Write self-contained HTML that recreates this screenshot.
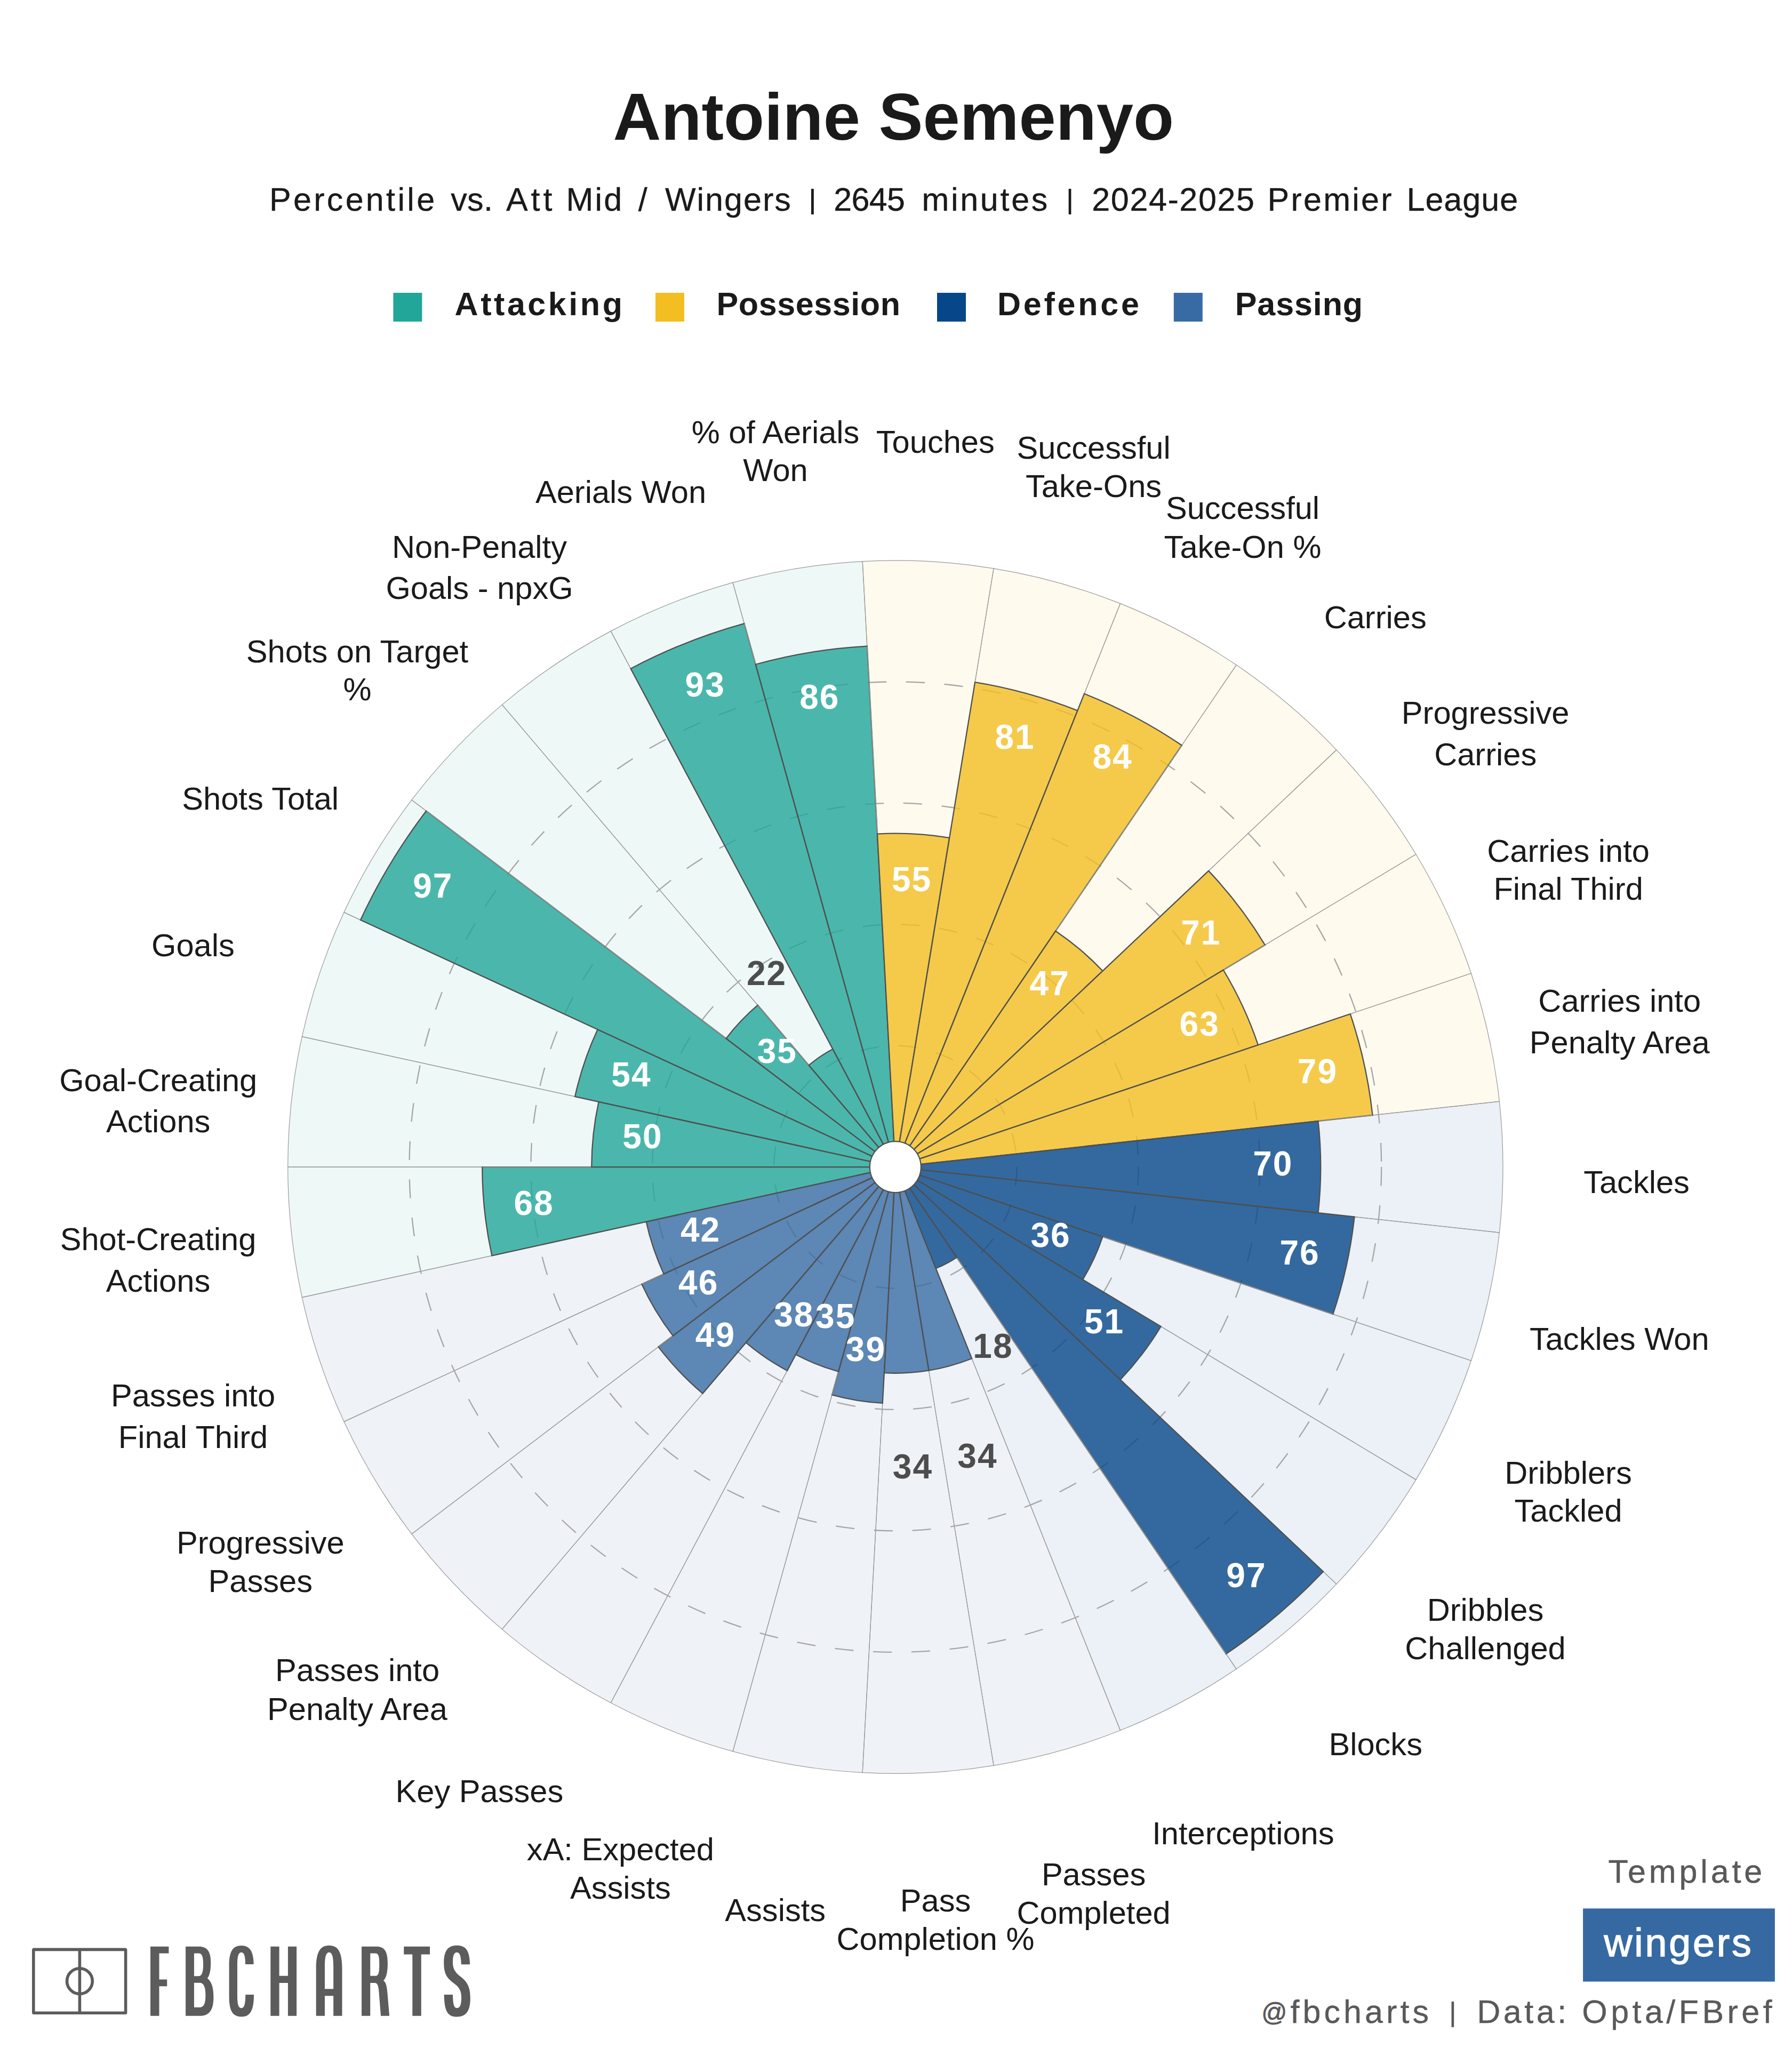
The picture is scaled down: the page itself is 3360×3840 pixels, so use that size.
<!DOCTYPE html><html><head><meta charset="utf-8"><style>html,body{margin:0;padding:0;background:#fff}body{width:3360px;height:3840px;overflow:hidden}</style></head><body><svg width="3360" height="3840" viewBox="0 0 3360 3840" style="display:block;font-family:'Liberation Sans',sans-serif">
<rect width="3360" height="3840" fill="#fff"/>
<text x="1675.3" y="262" text-anchor="middle" style="font-size:124.5px;font-weight:bold;fill:#1a1a1a">Antoine Semenyo</text>
<text x="504.93" y="394.50" style="font-size:61px;letter-spacing:4.320px;fill:#1a1a1a;stroke:#1a1a1a;stroke-width:0.4px;">Percentile</text>
<text x="845.20" y="394.50" style="font-size:61px;letter-spacing:0.381px;fill:#1a1a1a;stroke:#1a1a1a;stroke-width:0.4px;">vs.</text>
<text x="949.00" y="394.50" style="font-size:61px;letter-spacing:5.905px;fill:#1a1a1a;stroke:#1a1a1a;stroke-width:0.4px;">Att</text>
<text x="1061.43" y="394.50" style="font-size:61px;letter-spacing:3.250px;fill:#1a1a1a;stroke:#1a1a1a;stroke-width:0.4px;">Mid</text>
<text x="1196.70" y="394.50" style="font-size:61px;letter-spacing:0.000px;fill:#1a1a1a;stroke:#1a1a1a;stroke-width:0.4px;">/</text>
<text x="1247.00" y="394.50" style="font-size:61px;letter-spacing:1.998px;fill:#1a1a1a;stroke:#1a1a1a;stroke-width:0.4px;">Wingers</text>
<rect x="1521.0" y="354" width="4.80" height="48" fill="#1a1a1a"/>
<text x="1563.34" y="394.50" style="font-size:61px;letter-spacing:-0.690px;fill:#1a1a1a;stroke:#1a1a1a;stroke-width:0.4px;">2645</text>
<text x="1728.39" y="394.50" style="font-size:61px;letter-spacing:3.722px;fill:#1a1a1a;stroke:#1a1a1a;stroke-width:0.4px;">minutes</text>
<rect x="2003.7" y="354" width="4.70" height="48" fill="#1a1a1a"/>
<text x="2047.34" y="394.50" style="font-size:61px;letter-spacing:1.602px;fill:#1a1a1a;stroke:#1a1a1a;stroke-width:0.4px;">2024-2025</text>
<text x="2376.43" y="394.50" style="font-size:61px;letter-spacing:3.272px;fill:#1a1a1a;stroke:#1a1a1a;stroke-width:0.4px;">Premier</text>
<text x="2637.43" y="394.50" style="font-size:61px;letter-spacing:1.037px;fill:#1a1a1a;stroke:#1a1a1a;stroke-width:0.4px;">League</text>
<rect x="737.4" y="549" width="54" height="54" fill="#22a699"/>
<text x="852.55" y="591.00" style="font-size:61px;font-weight:bold;letter-spacing:4.554px;fill:#1a1a1a;">Attacking</text>
<rect x="1229" y="549" width="54" height="54" fill="#f2be22"/>
<text x="1343.49" y="591.00" style="font-size:61px;font-weight:bold;letter-spacing:0.602px;fill:#1a1a1a;">Possession</text>
<rect x="1757" y="549" width="54" height="54" fill="#06478a"/>
<text x="1869.89" y="591.00" style="font-size:61px;font-weight:bold;letter-spacing:4.767px;fill:#1a1a1a;">Defence</text>
<rect x="2200.8" y="549" width="54" height="54" fill="#386ba3"/>
<text x="2315.79" y="591.00" style="font-size:61px;font-weight:bold;letter-spacing:0.897px;fill:#1a1a1a;">Passing</text>
<g transform="translate(1678.85,2188.1) scale(1,0.99829) translate(-1678.85,-2188.1)">
<g stroke="#9a9a9a" stroke-width="1.2" stroke-linejoin="round">
<path d="M1678.85,2188.10 L539.70,2188.10 A1139.15,1139.15 0 0 1 566.33,1943.22 Z" fill="#22a699" fill-opacity="0.08"/>
<path d="M1678.85,2188.10 L566.33,1943.22 A1139.15,1139.15 0 0 1 644.99,1709.78 Z" fill="#22a699" fill-opacity="0.08"/>
<path d="M1678.85,2188.10 L644.99,1709.78 A1139.15,1139.15 0 0 1 771.98,1498.72 Z" fill="#22a699" fill-opacity="0.08"/>
<path d="M1678.85,2188.10 L771.98,1498.72 A1139.15,1139.15 0 0 1 941.38,1319.88 Z" fill="#22a699" fill-opacity="0.08"/>
<path d="M1678.85,2188.10 L941.38,1319.88 A1139.15,1139.15 0 0 1 1145.26,1181.65 Z" fill="#22a699" fill-opacity="0.08"/>
<path d="M1678.85,2188.10 L1145.26,1181.65 A1139.15,1139.15 0 0 1 1374.10,1090.47 Z" fill="#22a699" fill-opacity="0.08"/>
<path d="M1678.85,2188.10 L1374.10,1090.47 A1139.15,1139.15 0 0 1 1617.18,1050.62 Z" fill="#22a699" fill-opacity="0.08"/>
<path d="M1678.85,2188.10 L1617.18,1050.62 A1139.15,1139.15 0 0 1 1863.14,1063.96 Z" fill="#f2be22" fill-opacity="0.08"/>
<path d="M1678.85,2188.10 L1863.14,1063.96 A1139.15,1139.15 0 0 1 2100.49,1129.86 Z" fill="#f2be22" fill-opacity="0.08"/>
<path d="M1678.85,2188.10 L2100.49,1129.86 A1139.15,1139.15 0 0 1 2318.13,1245.24 Z" fill="#f2be22" fill-opacity="0.08"/>
<path d="M1678.85,2188.10 L2318.13,1245.24 A1139.15,1139.15 0 0 1 2505.87,1404.71 Z" fill="#f2be22" fill-opacity="0.08"/>
<path d="M1678.85,2188.10 L2505.87,1404.71 A1139.15,1139.15 0 0 1 2654.94,1600.81 Z" fill="#f2be22" fill-opacity="0.08"/>
<path d="M1678.85,2188.10 L2654.94,1600.81 A1139.15,1139.15 0 0 1 2758.37,1824.37 Z" fill="#f2be22" fill-opacity="0.08"/>
<path d="M1678.85,2188.10 L2758.37,1824.37 A1139.15,1139.15 0 0 1 2811.32,2064.94 Z" fill="#f2be22" fill-opacity="0.08"/>
<path d="M1678.85,2188.10 L2811.32,2064.94 A1139.15,1139.15 0 0 1 2811.32,2311.26 Z" fill="#06478a" fill-opacity="0.08"/>
<path d="M1678.85,2188.10 L2811.32,2311.26 A1139.15,1139.15 0 0 1 2758.37,2551.83 Z" fill="#06478a" fill-opacity="0.08"/>
<path d="M1678.85,2188.10 L2758.37,2551.83 A1139.15,1139.15 0 0 1 2654.94,2775.39 Z" fill="#06478a" fill-opacity="0.08"/>
<path d="M1678.85,2188.10 L2654.94,2775.39 A1139.15,1139.15 0 0 1 2505.87,2971.49 Z" fill="#06478a" fill-opacity="0.08"/>
<path d="M1678.85,2188.10 L2505.87,2971.49 A1139.15,1139.15 0 0 1 2318.13,3130.96 Z" fill="#06478a" fill-opacity="0.08"/>
<path d="M1678.85,2188.10 L2318.13,3130.96 A1139.15,1139.15 0 0 1 2100.49,3246.34 Z" fill="#06478a" fill-opacity="0.08"/>
<path d="M1678.85,2188.10 L2100.49,3246.34 A1139.15,1139.15 0 0 1 1863.14,3312.24 Z" fill="#386ba3" fill-opacity="0.08"/>
<path d="M1678.85,2188.10 L1863.14,3312.24 A1139.15,1139.15 0 0 1 1617.18,3325.58 Z" fill="#386ba3" fill-opacity="0.08"/>
<path d="M1678.85,2188.10 L1617.18,3325.58 A1139.15,1139.15 0 0 1 1374.10,3285.73 Z" fill="#386ba3" fill-opacity="0.08"/>
<path d="M1678.85,2188.10 L1374.10,3285.73 A1139.15,1139.15 0 0 1 1145.26,3194.55 Z" fill="#386ba3" fill-opacity="0.08"/>
<path d="M1678.85,2188.10 L1145.26,3194.55 A1139.15,1139.15 0 0 1 941.38,3056.32 Z" fill="#386ba3" fill-opacity="0.08"/>
<path d="M1678.85,2188.10 L941.38,3056.32 A1139.15,1139.15 0 0 1 771.98,2877.48 Z" fill="#386ba3" fill-opacity="0.08"/>
<path d="M1678.85,2188.10 L771.98,2877.48 A1139.15,1139.15 0 0 1 644.99,2666.42 Z" fill="#386ba3" fill-opacity="0.08"/>
<path d="M1678.85,2188.10 L644.99,2666.42 A1139.15,1139.15 0 0 1 566.33,2432.98 Z" fill="#386ba3" fill-opacity="0.08"/>
<path d="M1678.85,2188.10 L566.33,2432.98 A1139.15,1139.15 0 0 1 539.70,2188.10 Z" fill="#22a699" fill-opacity="0.08"/>
</g>
<g fill="none" stroke="#a6a6a6" stroke-width="2.3" stroke-dasharray="35.2 36.7">
<path d="M1906.68,2188.10 A227.83,227.83 0 0 1 1451.02,2188.10 A227.83,227.83 0 0 1 1906.68,2188.10"/>
<path d="M2134.51,2188.10 A455.66,455.66 0 0 1 1223.19,2188.10 A455.66,455.66 0 0 1 2134.51,2188.10"/>
<path d="M2362.34,2188.10 A683.49,683.49 0 0 1 995.36,2188.10 A683.49,683.49 0 0 1 2362.34,2188.10"/>
<path d="M2590.17,2188.10 A911.32,911.32 0 0 1 767.53,2188.10 A911.32,911.32 0 0 1 2590.17,2188.10"/>
</g>
<g stroke="#505050" stroke-width="2.3" stroke-linejoin="miter" fill-opacity="0.8">
<path d="M1678.85,2188.10 L1109.27,2188.10 A569.58,569.58 0 0 1 1122.59,2065.66 Z" fill="#22a699"/>
<path d="M1678.85,2188.10 L1078.09,2055.86 A615.14,615.14 0 0 1 1120.56,1929.81 Z" fill="#22a699"/>
<path d="M1678.85,2188.10 L676.00,1724.13 A1104.98,1104.98 0 0 1 799.19,1519.40 Z" fill="#22a699"/>
<path d="M1678.85,2188.10 L1361.45,1946.82 A398.70,398.70 0 0 1 1420.74,1884.22 Z" fill="#22a699"/>
<path d="M1678.85,2188.10 L1516.61,1997.09 A250.61,250.61 0 0 1 1561.46,1966.68 Z" fill="#22a699"/>
<path d="M1678.85,2188.10 L1182.61,1252.10 A1059.41,1059.41 0 0 1 1395.43,1167.31 Z" fill="#22a699"/>
<path d="M1678.85,2188.10 L1416.76,1244.14 A979.67,979.67 0 0 1 1625.81,1209.87 Z" fill="#22a699"/>
<path d="M1678.85,2188.10 L1644.93,1562.49 A626.53,626.53 0 0 1 1780.21,1569.82 Z" fill="#f2be22"/>
<path d="M1678.85,2188.10 L1828.13,1277.54 A922.71,922.71 0 0 1 2020.38,1330.92 Z" fill="#f2be22"/>
<path d="M1678.85,2188.10 L2033.03,1299.18 A956.89,956.89 0 0 1 2215.84,1396.10 Z" fill="#f2be22"/>
<path d="M1678.85,2188.10 L1979.31,1744.95 A535.40,535.40 0 0 1 2067.55,1819.91 Z" fill="#f2be22"/>
<path d="M1678.85,2188.10 L2266.03,1631.89 A808.80,808.80 0 0 1 2371.87,1771.12 Z" fill="#f2be22"/>
<path d="M1678.85,2188.10 L2293.79,1818.11 A717.66,717.66 0 0 1 2358.95,1958.95 Z" fill="#f2be22"/>
<path d="M1678.85,2188.10 L2531.67,1900.75 A899.93,899.93 0 0 1 2573.50,2090.80 Z" fill="#f2be22"/>
<path d="M1678.85,2188.10 L2471.58,2101.89 A797.40,797.40 0 0 1 2471.58,2274.31 Z" fill="#06478a"/>
<path d="M1678.85,2188.10 L2539.53,2281.70 A865.75,865.75 0 0 1 2499.28,2464.54 Z" fill="#06478a"/>
<path d="M1678.85,2188.10 L2067.48,2319.04 A410.09,410.09 0 0 1 2030.24,2399.53 Z" fill="#06478a"/>
<path d="M1678.85,2188.10 L2176.66,2487.62 A580.97,580.97 0 0 1 2100.63,2587.63 Z" fill="#06478a"/>
<path d="M1678.85,2188.10 L2481.06,2947.99 A1104.98,1104.98 0 0 1 2298.95,3102.68 Z" fill="#06478a"/>
<path d="M1678.85,2188.10 L1793.92,2357.82 A205.05,205.05 0 0 1 1754.75,2378.58 Z" fill="#06478a"/>
<path d="M1678.85,2188.10 L1822.21,2547.90 A387.31,387.31 0 0 1 1741.51,2570.31 Z" fill="#386ba3"/>
<path d="M1678.85,2188.10 L1741.51,2570.31 A387.31,387.31 0 0 1 1657.88,2574.84 Z" fill="#386ba3"/>
<path d="M1678.85,2188.10 L1654.80,2631.72 A444.27,444.27 0 0 1 1560.00,2616.17 Z" fill="#386ba3"/>
<path d="M1678.85,2188.10 L1572.19,2572.27 A398.70,398.70 0 0 1 1492.09,2540.36 Z" fill="#386ba3"/>
<path d="M1678.85,2188.10 L1476.09,2570.55 A432.88,432.88 0 0 1 1398.61,2518.02 Z" fill="#386ba3"/>
<path d="M1678.85,2188.10 L1317.49,2613.53 A558.18,558.18 0 0 1 1234.48,2525.90 Z" fill="#386ba3"/>
<path d="M1678.85,2188.10 L1261.69,2505.22 A524.01,524.01 0 0 1 1203.27,2408.13 Z" fill="#386ba3"/>
<path d="M1678.85,2188.10 L1244.63,2388.99 A478.44,478.44 0 0 1 1211.59,2290.95 Z" fill="#386ba3"/>
<path d="M1678.85,2188.10 L922.34,2354.62 A774.62,774.62 0 0 1 904.23,2188.10 Z" fill="#22a699"/>
</g>
<g stroke="#9c9c9c" stroke-width="1.4">
<line x1="1108.07" y1="2188.10" x2="904.73" y2="2188.10"/>
<line x1="1360.49" y1="1946.09" x2="799.58" y2="1519.70"/>
<line x1="1515.83" y1="1996.18" x2="1421.06" y2="1884.61"/>
<line x1="1416.44" y1="1242.98" x2="1395.56" y2="1167.79"/>
<line x1="1644.87" y1="1561.29" x2="1625.84" y2="1210.37"/>
<line x1="1979.98" y1="1743.96" x2="2215.56" y2="1396.51"/>
<line x1="2294.81" y1="1817.49" x2="2371.44" y2="1771.38"/>
<line x1="2472.77" y1="2101.76" x2="2573.01" y2="2090.85"/>
<line x1="2068.61" y1="2319.43" x2="2498.81" y2="2464.38"/>
<line x1="1794.59" y1="2358.81" x2="2298.67" y2="3102.26"/>
<line x1="1571.86" y1="2573.43" x2="1560.13" y2="2615.69"/>
<line x1="1260.73" y1="2505.94" x2="1234.88" y2="2525.60"/>
<line x1="1243.54" y1="2389.50" x2="1203.73" y2="2407.92"/>
</g>
<circle cx="1678.85" cy="2188.1" r="48" fill="#fff" stroke="#505050" stroke-width="2.2"/>
<text x="1204.91" y="2152.67" text-anchor="middle" style="font-size:64px;font-weight:bold;letter-spacing:2px;fill:#fff">50</text>
<text x="1183.97" y="2037.08" text-anchor="middle" style="font-size:64px;font-weight:bold;letter-spacing:2px;fill:#fff">54</text>
<text x="811.83" y="1681.71" text-anchor="middle" style="font-size:64px;font-weight:bold;letter-spacing:2px;fill:#fff">97</text>
<text x="1457.26" y="1992.88" text-anchor="middle" style="font-size:64px;font-weight:bold;letter-spacing:2px;fill:#fff">35</text>
<text x="1437.63" y="1846.11" text-anchor="middle" style="font-size:64px;font-weight:bold;letter-spacing:2px;fill:#4d4d4d">22</text>
<text x="1322.15" y="1304.89" text-anchor="middle" style="font-size:64px;font-weight:bold;letter-spacing:2px;fill:#fff">93</text>
<text x="1536.80" y="1327.57" text-anchor="middle" style="font-size:64px;font-weight:bold;letter-spacing:2px;fill:#fff">86</text>
<text x="1709.54" y="1669.78" text-anchor="middle" style="font-size:64px;font-weight:bold;letter-spacing:2px;fill:#fff">55</text>
<text x="1903.02" y="1403.13" text-anchor="middle" style="font-size:64px;font-weight:bold;letter-spacing:2px;fill:#fff">81</text>
<text x="2086.08" y="1439.50" text-anchor="middle" style="font-size:64px;font-weight:bold;letter-spacing:2px;fill:#fff">84</text>
<text x="1968.16" y="1865.80" text-anchor="middle" style="font-size:64px;font-weight:bold;letter-spacing:2px;fill:#fff">47</text>
<text x="2251.88" y="1770.09" text-anchor="middle" style="font-size:64px;font-weight:bold;letter-spacing:2px;fill:#fff">71</text>
<text x="2249.18" y="1941.33" text-anchor="middle" style="font-size:64px;font-weight:bold;letter-spacing:2px;fill:#fff">63</text>
<text x="2470.44" y="2030.53" text-anchor="middle" style="font-size:64px;font-weight:bold;letter-spacing:2px;fill:#fff">79</text>
<text x="2386.82" y="2204.40" text-anchor="middle" style="font-size:64px;font-weight:bold;letter-spacing:2px;fill:#fff">70</text>
<text x="2437.06" y="2370.92" text-anchor="middle" style="font-size:64px;font-weight:bold;letter-spacing:2px;fill:#fff">76</text>
<text x="1970.03" y="2338.33" text-anchor="middle" style="font-size:64px;font-weight:bold;letter-spacing:2px;fill:#fff">36</text>
<text x="2070.50" y="2500.84" text-anchor="middle" style="font-size:64px;font-weight:bold;letter-spacing:2px;fill:#fff">51</text>
<text x="2336.90" y="2977.11" text-anchor="middle" style="font-size:64px;font-weight:bold;letter-spacing:2px;fill:#fff">97</text>
<text x="1861.97" y="2546.59" text-anchor="middle" style="font-size:64px;font-weight:bold;letter-spacing:2px;fill:#4d4d4d">18</text>
<text x="1832.93" y="2753.21" text-anchor="middle" style="font-size:64px;font-weight:bold;letter-spacing:2px;fill:#4d4d4d">34</text>
<text x="1711.39" y="2773.14" text-anchor="middle" style="font-size:64px;font-weight:bold;letter-spacing:2px;fill:#4d4d4d">34</text>
<text x="1623.42" y="2552.88" text-anchor="middle" style="font-size:64px;font-weight:bold;letter-spacing:2px;fill:#fff">39</text>
<text x="1566.71" y="2490.13" text-anchor="middle" style="font-size:64px;font-weight:bold;letter-spacing:2px;fill:#fff">35</text>
<text x="1488.77" y="2487.26" text-anchor="middle" style="font-size:64px;font-weight:bold;letter-spacing:2px;fill:#fff">38</text>
<text x="1341.47" y="2525.59" text-anchor="middle" style="font-size:64px;font-weight:bold;letter-spacing:2px;fill:#fff">49</text>
<text x="1309.64" y="2427.57" text-anchor="middle" style="font-size:64px;font-weight:bold;letter-spacing:2px;fill:#fff">46</text>
<text x="1313.51" y="2328.07" text-anchor="middle" style="font-size:64px;font-weight:bold;letter-spacing:2px;fill:#fff">42</text>
<text x="1001.07" y="2278.30" text-anchor="middle" style="font-size:64px;font-weight:bold;letter-spacing:2px;fill:#fff">68</text>
</g>
<text x="296.7" y="2045.5" text-anchor="middle" style="font-size:59.6px;fill:#1a1a1a">Goal-Creating</text>
<text x="296.7" y="2123.3" text-anchor="middle" style="font-size:59.6px;fill:#1a1a1a">Actions</text>
<text x="361.9" y="1792.7" text-anchor="middle" style="font-size:59.6px;fill:#1a1a1a">Goals</text>
<text x="488.2" y="1518" text-anchor="middle" style="font-size:59.6px;fill:#1a1a1a">Shots Total</text>
<text x="670" y="1241.8" text-anchor="middle" style="font-size:59.6px;fill:#1a1a1a">Shots on Target</text>
<text x="670" y="1313" text-anchor="middle" style="font-size:59.6px;fill:#1a1a1a">%</text>
<text x="899" y="1046.4" text-anchor="middle" style="font-size:59.6px;fill:#1a1a1a">Non-Penalty</text>
<text x="899" y="1123.4" text-anchor="middle" style="font-size:59.6px;fill:#1a1a1a">Goals - npxG</text>
<text x="1164" y="942.9" text-anchor="middle" style="font-size:59.6px;fill:#1a1a1a">Aerials Won</text>
<text x="1454" y="831" text-anchor="middle" style="font-size:59.6px;fill:#1a1a1a">% of Aerials</text>
<text x="1454" y="902" text-anchor="middle" style="font-size:59.6px;fill:#1a1a1a">Won</text>
<text x="1753.8" y="848.7" text-anchor="middle" style="font-size:59.6px;fill:#1a1a1a">Touches</text>
<text x="2050.6" y="860.4" text-anchor="middle" style="font-size:59.6px;fill:#1a1a1a">Successful</text>
<text x="2050.6" y="931.7" text-anchor="middle" style="font-size:59.6px;fill:#1a1a1a">Take-Ons</text>
<text x="2330" y="973.4" text-anchor="middle" style="font-size:59.6px;fill:#1a1a1a">Successful</text>
<text x="2330" y="1046.2" text-anchor="middle" style="font-size:59.6px;fill:#1a1a1a">Take-On %</text>
<text x="2578.7" y="1177.8" text-anchor="middle" style="font-size:59.6px;fill:#1a1a1a">Carries</text>
<text x="2785.2" y="1356.9" text-anchor="middle" style="font-size:59.6px;fill:#1a1a1a">Progressive</text>
<text x="2785.2" y="1434.8" text-anchor="middle" style="font-size:59.6px;fill:#1a1a1a">Carries</text>
<text x="2940.6" y="1615.6" text-anchor="middle" style="font-size:59.6px;fill:#1a1a1a">Carries into</text>
<text x="2940.6" y="1686.9" text-anchor="middle" style="font-size:59.6px;fill:#1a1a1a">Final Third</text>
<text x="3036.7" y="1896.5" text-anchor="middle" style="font-size:59.6px;fill:#1a1a1a">Carries into</text>
<text x="3036.7" y="1974.9" text-anchor="middle" style="font-size:59.6px;fill:#1a1a1a">Penalty Area</text>
<text x="3068.5" y="2237" text-anchor="middle" style="font-size:59.6px;fill:#1a1a1a">Tackles</text>
<text x="3036.3" y="2531" text-anchor="middle" style="font-size:59.6px;fill:#1a1a1a">Tackles Won</text>
<text x="2940.5" y="2781.9" text-anchor="middle" style="font-size:59.6px;fill:#1a1a1a">Dribblers</text>
<text x="2940.5" y="2853.2" text-anchor="middle" style="font-size:59.6px;fill:#1a1a1a">Tackled</text>
<text x="2785" y="3039" text-anchor="middle" style="font-size:59.6px;fill:#1a1a1a">Dribbles</text>
<text x="2785" y="3110.8" text-anchor="middle" style="font-size:59.6px;fill:#1a1a1a">Challenged</text>
<text x="2579.2" y="3290.8" text-anchor="middle" style="font-size:59.6px;fill:#1a1a1a">Blocks</text>
<text x="2330.9" y="3457.6" text-anchor="middle" style="font-size:59.6px;fill:#1a1a1a">Interceptions</text>
<text x="2050.6" y="3535.2" text-anchor="middle" style="font-size:59.6px;fill:#1a1a1a">Passes</text>
<text x="2050.6" y="3607.1" text-anchor="middle" style="font-size:59.6px;fill:#1a1a1a">Completed</text>
<text x="1754" y="3583.8" text-anchor="middle" style="font-size:59.6px;fill:#1a1a1a">Pass</text>
<text x="1754" y="3656.3" text-anchor="middle" style="font-size:59.6px;fill:#1a1a1a">Completion %</text>
<text x="1453.7" y="3602.3" text-anchor="middle" style="font-size:59.6px;fill:#1a1a1a">Assists</text>
<text x="1163.4" y="3488.3" text-anchor="middle" style="font-size:59.6px;fill:#1a1a1a">xA: Expected</text>
<text x="1163.4" y="3560.2" text-anchor="middle" style="font-size:59.6px;fill:#1a1a1a">Assists</text>
<text x="898.9" y="3379.4" text-anchor="middle" style="font-size:59.6px;fill:#1a1a1a">Key Passes</text>
<text x="670" y="3152.4" text-anchor="middle" style="font-size:59.6px;fill:#1a1a1a">Passes into</text>
<text x="670" y="3224.7" text-anchor="middle" style="font-size:59.6px;fill:#1a1a1a">Penalty Area</text>
<text x="488.3" y="2912.8" text-anchor="middle" style="font-size:59.6px;fill:#1a1a1a">Progressive</text>
<text x="488.3" y="2984.7" text-anchor="middle" style="font-size:59.6px;fill:#1a1a1a">Passes</text>
<text x="362" y="2637.1" text-anchor="middle" style="font-size:59.6px;fill:#1a1a1a">Passes into</text>
<text x="362" y="2715" text-anchor="middle" style="font-size:59.6px;fill:#1a1a1a">Final Third</text>
<text x="296.5" y="2344.3" text-anchor="middle" style="font-size:59.6px;fill:#1a1a1a">Shot-Creating</text>
<text x="296.5" y="2422.2" text-anchor="middle" style="font-size:59.6px;fill:#1a1a1a">Actions</text>
<g fill="none" stroke="#5c5c5c" stroke-width="5.6"><rect x="62.8" y="3655.4" width="172.8" height="118.9" rx="0.8"/><line x1="149.4" y1="3655.4" x2="149.4" y2="3774.3"/><circle cx="149.4" cy="3714.6" r="23.9"/></g>
<g fill="#5c5c5c" fill-rule="evenodd">
<g transform="translate(270,3635) scale(0.122767)">
<path d="M98,120 H378 V225 H232 V623 H352 V728 H232 V1180 H98 Z"/>
<path d="M636,120 H840 C960,120 1020,190 1020,360 C1020,480 1005,560 968,605 C1030,650 1062,750 1062,890 C1062,1090 1000,1180 850,1180 H636 Z M765,225 V572 H835 C880,572 905,520 905,395 C905,270 885,225 835,225 Z M765,675 V1048 H850 C915,1048 940,990 940,865 C940,735 912,675 850,675 Z"/>
<path d="M1675,390 H1548 C1548,270 1530,210 1488,210 C1440,210 1425,270 1425,400 V870 C1425,1000 1440,1060 1488,1060 C1530,1060 1550,1000 1550,855 H1678 C1678,1100 1620,1192 1490,1192 C1350,1192 1300,1100 1300,880 V420 C1300,200 1350,105 1490,105 C1620,105 1672,200 1675,390 Z"/>
</g>
<g transform="translate(495,3635) scale(0.139509)">
<path d="M88,105 H205 V500 H322 V105 H438 V1038 H322 V595 H205 V1038 H88 Z"/>
<path d="M700,1038 V400 C700,190 750,92 875,92 C1000,92 1050,190 1050,400 V1038 H933 V768 H817 V1038 Z M817,675 H933 V380 C933,240 915,185 875,185 C835,185 817,240 817,380 Z"/>
<path d="M1312,105 H1510 C1620,105 1662,170 1662,330 C1662,450 1645,530 1605,562 C1640,585 1650,640 1658,720 L1685,1038 H1570 L1545,720 C1538,630 1525,595 1490,595 H1428 V1038 H1312 Z M1428,198 V500 H1500 C1540,500 1550,450 1550,345 C1550,240 1540,198 1500,198 Z"/>
</g>
<g transform="translate(660,3635) scale(0.139509)">
<path d="M697,105 H1047 V212 H930 V1038 H812 V212 H697 Z"/>
<path d="M1585,345 H1468 C1465,235 1450,185 1410,185 C1368,185 1355,235 1355,320 C1355,410 1390,455 1460,510 C1550,580 1590,650 1590,800 C1590,980 1530,1050 1410,1050 C1290,1050 1240,980 1238,752 H1355 C1357,880 1370,932 1412,932 C1455,932 1470,880 1470,790 C1470,700 1440,650 1370,600 C1270,530 1235,460 1235,330 C1235,160 1290,92 1410,92 C1530,92 1580,160 1585,345 Z"/>
</g>
</g>
<text x="3015.55" y="3529.80" style="font-size:61px;letter-spacing:5.887px;fill:#595959;stroke:#595959;stroke-width:0.5px;">Template</text>
<rect x="2968.1" y="3578.4" width="359.8" height="137.1" fill="#3669a2"/>
<text x="3007.45" y="3668.10" style="font-size:73.5px;letter-spacing:3.847px;fill:#fff;stroke:#fff;stroke-width:1.4px;">wingers</text>
<text x="2365.20" y="3788.60" style="font-size:47.3px;letter-spacing:0.000px;fill:#595959;stroke:#595959;stroke-width:0.8px;">@</text>
<text x="2419.50" y="3792.90" style="font-size:61px;letter-spacing:6.060px;fill:#595959;stroke:#595959;stroke-width:0.4px;">fbcharts</text>
<rect x="2721.5" y="3752.9" width="4.7" height="48" fill="#595959"/>
<text x="2769.13" y="3792.90" style="font-size:61px;letter-spacing:5.594px;fill:#595959;stroke:#595959;stroke-width:0.4px;">Data:</text>
<text x="2966.34" y="3792.90" style="font-size:61px;letter-spacing:6.436px;fill:#595959;stroke:#595959;stroke-width:0.4px;">Opta/FBref</text>
</svg></body></html>
